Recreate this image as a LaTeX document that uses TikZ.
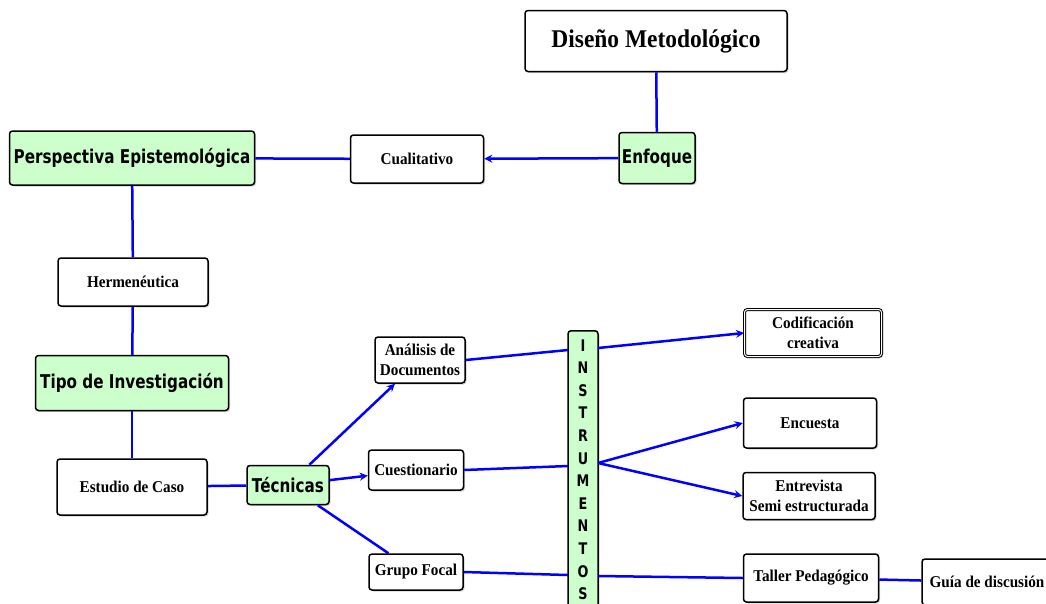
\documentclass[tikz,border=0pt]{standalone}
\usepackage{fontspec}
\setmainfont[FakeStretch=0.92]{Liberation Serif}
\newfontfamily\greenfont[FakeStretch=0.8]{DejaVu Sans}
\usetikzlibrary{shadows}
\definecolor{boxgreen}{RGB}{204,255,204}

\begin{document}
\begin{tikzpicture}[>=stealth,x=1pt,y=-1pt,
    box/.style={draw=black,line width=1.5pt,rounded corners=3pt,fill=white,
        drop shadow={shadow xshift=1.5pt,shadow yshift=-1.5pt,opacity=0.35},
        inner sep=2pt,align=center},
    greenbox/.style={box,fill=boxgreen,font=\greenfont\bfseries\fontsize{19}{22}\selectfont},
    whitebox/.style={box,font=\bfseries\fontsize{16.5}{20}\selectfont},
    link/.style={blue,line width=2.5pt},
    arrow/.style={link,->}]
    \useasboundingbox (0,0) rectangle (1046,603);
    % top and left column
    \node[whitebox,minimum width=262,minimum height=61,font=\bfseries\fontsize{25.5}{28}\selectfont] (diseno) at (656,41) {Diseño Metodológico};
    \node[greenbox,minimum width=76,minimum height=51] (enfoque) at (657,158) {Enfoque};
    \node[whitebox,minimum width=133,minimum height=48] (cual) at (417,159) {Cualitativo};
    \node[greenbox,minimum width=245,minimum height=54] (persp) at (132,158) {Perspectiva Epistemológica};
    \node[whitebox,minimum width=150,minimum height=48] (herm) at (133,282) {Hermenéutica};
    \node[greenbox,minimum width=193,minimum height=55] (tipo) at (132,383) {Tipo de Investigación};
    \node[whitebox,minimum width=150,minimum height=56] (estudio) at (132,487) {Estudio de Caso};
    \node[greenbox,minimum width=82,minimum height=39] (tecnicas) at (288,485) {Técnicas};
    % techniques
    \node[whitebox,minimum width=90,minimum height=46] (ana) at (420,360) {Análisis de\\Documentos};
    \node[whitebox,minimum width=95,minimum height=40] (cuest) at (416,470) {Cuestionario};
    \node[whitebox,minimum width=94,minimum height=36] (grupo) at (416,572) {Grupo Focal};
    % instruments
    \node[greenbox,anchor=north,minimum width=30,minimum height=278,inner sep=1pt,
        font=\greenfont\bfseries\fontsize{16}{22.6}\selectfont] (instr) at (583,330)
        {I\\N\\S\\T\\R\\U\\M\\E\\N\\T\\O\\S};
    \node[whitebox,minimum width=137,minimum height=47,double,double distance=1pt,line width=1pt] (cod) at (813,333) {Codificación\\creativa};
    \node[whitebox,minimum width=133,minimum height=50] (enc) at (810,423) {Encuesta};
    \node[whitebox,minimum width=132,minimum height=47] (entr) at (809,496) {Entrevista\\Semi estructurada};
    \node[whitebox,minimum width=135,minimum height=48] (taller) at (811,578) {Taller Pedagógico};
    \node[whitebox,minimum width=130,minimum height=46] (guia) at (987,582) {Guía de discusión};
    % points on the instruments box
    \coordinate (i1w) at (568,350);
    \coordinate (i1e) at (598,348);
    \coordinate (i2w) at (568,466);
    \coordinate (i2e) at (598,463);
    \coordinate (i3w) at (568,575);
    \coordinate (i3e) at (598,576);

    \draw[link] (diseno) -- (enfoque);
    \draw[arrow] (enfoque) -- (cual);
    \draw[link] (cual) -- (persp);
    \draw[link] (persp) -- (herm);
    \draw[link] (herm) -- (tipo);
    \draw[link] (tipo) -- (estudio);
    \draw[link] (estudio) -- (tecnicas);
    \draw[arrow] (tecnicas) -- (ana);
    \draw[arrow] (tecnicas) -- (cuest);
    \draw[link] (tecnicas) -- (grupo);
    \draw[link] (ana.east) -- (i1w);
    \draw[arrow] (i1e) -- (cod.west);
    \draw[link] (cuest.east) -- (i2w);
    \draw[arrow] (i2e) -- (enc.west);
    \draw[arrow] (i2e) -- (entr.west);
    \draw[link] (grupo.east) -- (i3w);
    \draw[link] (i3e) -- (taller.west);
    \draw[link] (taller) -- (guia);
\end{tikzpicture}
\end{document}
